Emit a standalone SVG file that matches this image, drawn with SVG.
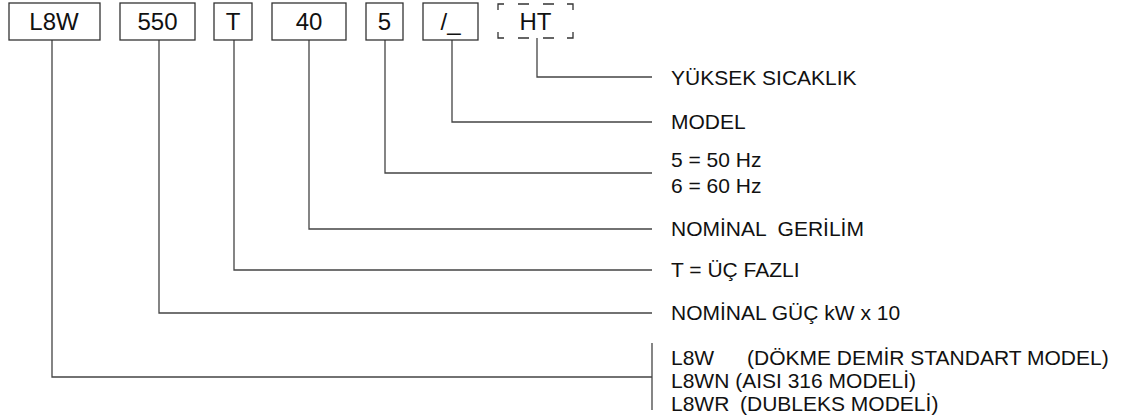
<svg xmlns="http://www.w3.org/2000/svg" width="1123" height="420" viewBox="0 0 1123 420">
<style>
.box{fill:#fff;stroke:#333;stroke-width:1.3}
.dash{fill:none;stroke:#333;stroke-width:1.3}
.bt{font-family:"Liberation Sans",Arial,sans-serif;font-size:24px;fill:#111;text-anchor:middle}
.lb{font-family:"Liberation Sans",Arial,sans-serif;font-size:21px;fill:#111}
.con{fill:none;stroke:#444;stroke-width:1.3}
</style>
<rect width="1123" height="420" fill="#fff"/>
<g id="connectors">
<path class="con" d="M537,38 V77 H652"/>
<path class="con" d="M452,40 V122 H652"/>
<path class="con" d="M385,40 V173 H652"/>
<path class="con" d="M309,40 V229 H652"/>
<path class="con" d="M234,40 V270 H652"/>
<path class="con" d="M159,40 V313 H652"/>
<path class="con" d="M52,40 V377 H652"/>
<path class="con" d="M652,343 V410"/>
</g>
<g id="node-l8w"><rect class="box" x="9" y="3" width="91" height="37"/><text class="bt" x="54" y="30">L8W</text></g>
<g id="node-550"><rect class="box" x="120" y="3" width="75" height="37"/><text class="bt" x="157.5" y="30">550</text></g>
<g id="node-t"><rect class="box" x="214" y="3" width="38" height="37"/><text class="bt" x="233" y="30">T</text></g>
<g id="node-40"><rect class="box" x="272" y="3" width="74" height="37"/><text class="bt" x="309" y="30">40</text></g>
<g id="node-5"><rect class="box" x="366" y="3" width="37" height="37"/><text class="bt" x="384.5" y="30">5</text></g>
<g id="node-model"><rect class="box" x="423" y="3" width="55" height="37"/><text class="bt" x="450.5" y="30">/_</text></g>
<g id="node-ht">
<path class="dash" d="M498,10 V4 H504 M518,4 H529 M543,4 H554 M567,4 H573 V10 M573,32 V38 H567 M554,38 H543 M529,38 H518 M504,38 H498 V32"/>
<text class="bt" x="535.5" y="30">HT</text>
</g>
<g id="label-ht"><text class="lb" x="671" y="85">YÜKSEK SICAKLIK</text></g>
<g id="label-model"><text class="lb" x="671" y="129">MODEL</text></g>
<g id="label-hz"><text class="lb" x="671" y="167">5 = 50 Hz</text><text class="lb" x="671" y="193">6 = 60 Hz</text></g>
<g id="label-voltage"><text class="lb" x="671" y="236" xml:space="preserve">NOMİNAL  GERİLİM</text></g>
<g id="label-phase"><text class="lb" x="671" y="277">T = ÜÇ FAZLI</text></g>
<g id="label-power"><text class="lb" x="671" y="320">NOMİNAL GÜÇ kW x 10</text></g>
<g id="label-type">
<text class="lb" x="671" y="365">L8W</text><text class="lb" x="747" y="365">(DÖKME DEMİR STANDART MODEL)</text>
<text class="lb" x="671" y="388">L8WN (AISI 316 MODELİ)</text>
<text class="lb" x="671" y="411">L8WR</text><text class="lb" x="740" y="411">(DUBLEKS MODELİ)</text>
</g>
</svg>
